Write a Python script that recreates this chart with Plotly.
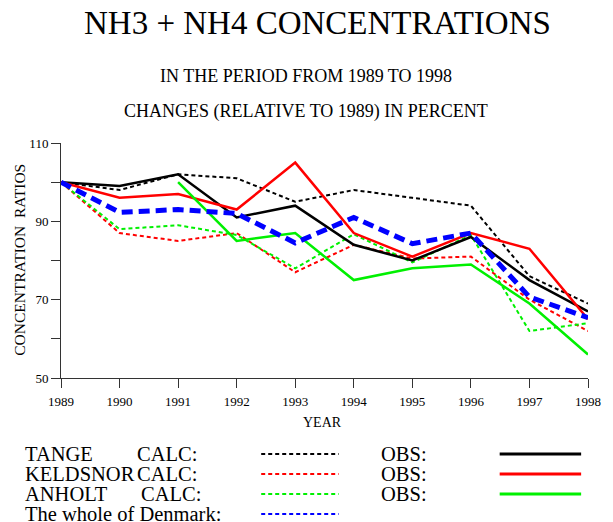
import plotly.graph_objects as go

years = [1989, 1990, 1991, 1992, 1993, 1994, 1995, 1996, 1997, 1998]
tange_calc = [100, 98, 102, 101, 95, 98, 96, 94, 76, 69]
tange_obs = [100, 99, 102, 91, 94, 84, 80, 86, 75, 67]
keld_calc = [100, 87, 85, 87, 77, 84, 80.5, 81, 70, 62]
keld_obs = [100, 96, 97, 93, 105, 87, 81, 87, 83, 65]
anh_calc = [100, 88, 89, 86.5, 78, 86.7, 79.5, 86.5, 62, 64]
anh_years = [1991, 1992, 1993, 1994, 1995, 1996, 1997, 1998]
anh_obs = [100, 85, 87, 75, 78, 79, 69, 56]
denmark = [100, 92.3, 93, 92, 84.5, 91, 84.3, 87, 70.7, 65.4]

y_ticks = [50, 60, 70, 80, 90, 100, 110]
y_ticklabels = ["50", "", "70", "", "90", "", "110"]

BLACK, RED, GREEN, BLUE = "#000000", "#ff0000", "#00f000", "#0000ff"
DOT = "4px,3px"
FONT = "Liberation Serif"

W, H = 613, 522
L, R, T, B = 61, 15, 143, 144
PW, PH = W - L - R, H - T - B


def px(x):
    return (x - L) / PW


def py(y):
    return (H - B - y) / PH


fig = go.Figure()
fig.add_trace(go.Scatter(x=years, y=tange_calc, mode="lines", line=dict(color=BLACK, width=2, dash=DOT)))
fig.add_trace(go.Scatter(x=years, y=keld_calc, mode="lines", line=dict(color=RED, width=2, dash=DOT)))
fig.add_trace(go.Scatter(x=years, y=anh_calc, mode="lines", line=dict(color=GREEN, width=2, dash=DOT)))
fig.add_trace(go.Scatter(x=years, y=tange_obs, mode="lines", line=dict(color=BLACK, width=2.5)))
fig.add_trace(go.Scatter(x=years, y=keld_obs, mode="lines", line=dict(color=RED, width=2.5)))
fig.add_trace(go.Scatter(x=anh_years, y=anh_obs, mode="lines", line=dict(color=GREEN, width=2.5)))
fig.add_trace(go.Scatter(x=years, y=denmark, mode="lines", line=dict(color=BLUE, width=5, dash="11px,6px")))

ann = []


def text(x, y, s, size, xanchor="left", angle=0, pad=1):
    ann.append(dict(x=px(x), y=py(y), xref="paper", yref="paper", text=s, showarrow=False,
                    xanchor=xanchor, yanchor="middle", textangle=angle, borderpad=pad,
                    font=dict(family=FONT, size=size, color="black")))


text(322.5, 23, "NH3 + NH4 CONCENTRATIONS", 33, "center")
text(310.5, 76, "IN THE PERIOD FROM 1989 TO 1998", 18, "center")
text(310.5, 111.5, "CHANGES (RELATIVE TO 1989) IN PERCENT", 18, "center")
text(18, 260, "CONCENTRATION  RATIOS", 15.5, "center", -90)
text(327, 422, "YEAR", 14, "center")

LF = 20.5
rows = [("TANGE", 139, BLACK), ("KELDSNOR", 139, RED), ("ANHOLT", 144, GREEN)]
row_y = [454, 474, 494, 513.5]
shapes = []
for (name, cx, col), yy in zip(rows, row_y):
    text(23, yy, name, LF, pad=0)
    text(cx - 2, yy, "CALC:", LF, pad=0)
    text(386, yy, "OBS:", LF, pad=0)
    shapes.append(dict(type="line", xref="paper", yref="paper", x0=px(265), x1=px(344), y0=py(yy), y1=py(yy),
                       line=dict(color=col, width=2, dash="4px,3px")))
    shapes.append(dict(type="line", xref="paper", yref="paper", x0=px(508), x1=px(591), y0=py(yy), y1=py(yy),
                       line=dict(color=col, width=3)))
text(23, row_y[3], "The whole of Denmark:", LF, pad=0)
shapes.append(dict(type="line", xref="paper", yref="paper", x0=px(265), x1=px(344), y0=py(514), y1=py(514),
                   line=dict(color=BLUE, width=2, dash="4px,3px")))

fig.update_layout(
    width=W, height=H, autosize=False,
    margin=dict(l=L, r=R, t=T, b=B),
    paper_bgcolor="white", plot_bgcolor="white",
    showlegend=False,
    annotations=ann, shapes=shapes,
    font=dict(family=FONT, size=13, color="black"),
    xaxis=dict(range=[1989, 1998], tickvals=years, ticks="outside", ticklen=9, showgrid=False,
               zeroline=False, showline=True, linecolor="#333", linewidth=1, tickcolor="#333",
               ticklabelstandoff=2, tickfont=dict(family=FONT, size=13)),
    yaxis=dict(range=[50, 110], tickvals=y_ticks, ticktext=y_ticklabels, ticks="outside", ticklen=9,
               showgrid=False, zeroline=False, showline=True, linecolor="#333", linewidth=1, tickcolor="#333",
               tickfont=dict(family=FONT, size=13)),
)

fig.write_html("out.html", config={"displayModeBar": False},
               post_script="document.body.style.margin='0';")
